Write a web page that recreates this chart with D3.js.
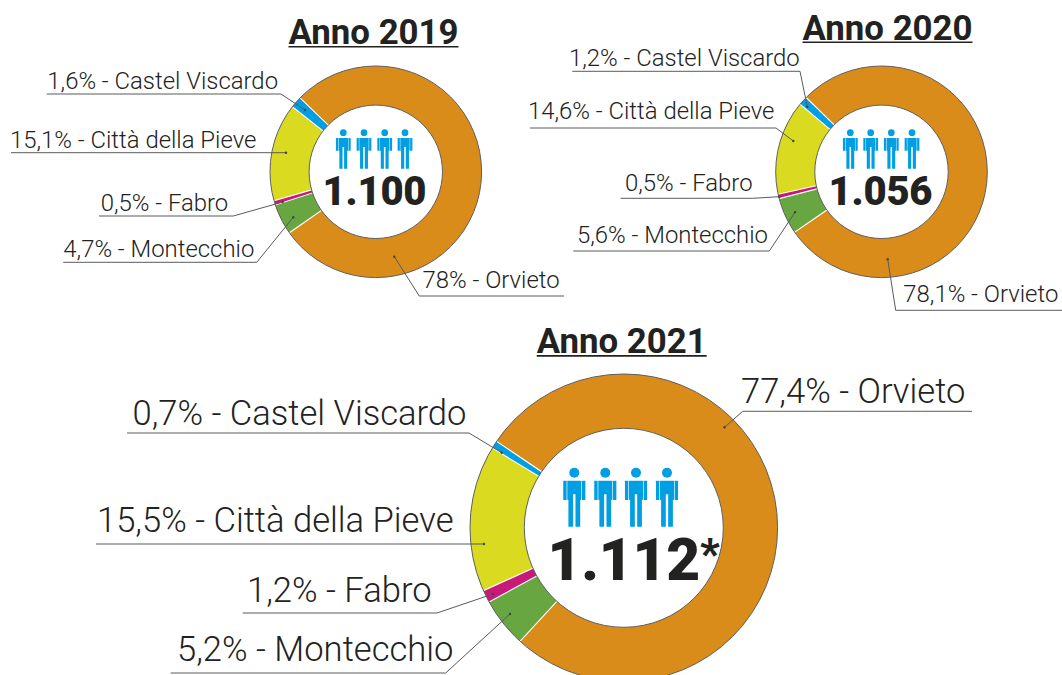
<!DOCTYPE html>
<html><head><meta charset="utf-8">
<script src="https://cdn.jsdelivr.net/npm/d3@7/dist/d3.min.js"></script>
<style>html,body{margin:0;padding:0;background:#fff;overflow:hidden}svg{display:block}text{font-family:Roboto,sans-serif}</style>
</head><body><div id="c"></div>
<script>
const categories = ["Orvieto","Montecchio","Fabro","Città della Pieve","Castel Viscardo"];
const colors = ["#D98C1A","#68A642","#C8197A","#DADA20","#009FE3"];
const years = ["Anno 2019","Anno 2020","Anno 2021"];
const totals = ["1.100","1.056","1.112"];
const totalMarks = ["","","*"];
const values2019 = [78,4.7,0.5,15.1,1.6];
const values2020 = [78.1,5.6,0.5,14.6,1.2];
const values2021 = [77.4,5.2,1.2,15.5,0.7];
const labels2019 = ["78%","4,7%","0,5%","15,1%","1,6%"];
const labels2020 = ["78,1%","5,6%","0,5%","14,6%","1,2%"];
const labels2021 = ["77,4%","5,2%","1,2%","15,5%","0,7%"];
const allValues = [values2019,values2020,values2021];
const allLabels = [labels2019,labels2020,labels2021];

// layout only
const panels = [
 {cx:375.8,cy:171.8,r:105.8,ri:66.7,start:-46,fs:23.9,title:{x:373.5,y:43.8,u:46.7,fs:34.8},
  num:{x:322.5,y:205,fs:40},icons:{xs:[343.3,364,384.7,405],top:129.3,h:39.4},
  leaders:[
   {tx:422.5,ty:288.3,tip:[394.3,256.7],elbow:[419.3,296],end:[564,296]},
   {tx:63.3,ty:256.7,tip:[293.3,217.3],elbow:[256.7,262.3],end:[63.3,262.3]},
   {tx:100.7,ty:210.7,tip:[282.7,202],elbow:[233.3,216],end:[99,216]},
   {tx:10,ty:147.7,tip:[286,152.7],elbow:null,end:[11,152.7]},
   {tx:47.3,ty:89.3,tip:[305,110],elbow:[281,94],end:[46.7,94]}]},
 {cx:881.5,cy:171.8,r:105.8,ri:66.7,start:-45.7,fs:23.9,title:{x:887.5,y:40,u:42.3,fs:34.8},
  num:{x:828.5,y:205,fs:40},icons:{xs:[850.3,870.7,891.3,912],top:129.3,h:39.4},
  leaders:[
   {tx:903.3,ty:302.3,tip:[887.7,259.3],elbow:[895.7,310.3],end:[1062,310.3]},
   {tx:577,ty:242.7,tip:[795,212.3],elbow:[769.3,251],end:[573.3,251]},
   {tx:625,ty:190.7,tip:[779.3,196.7],elbow:[752.3,198.3],end:[620.7,198.3]},
   {tx:528,ty:119.3,tip:[793.3,141],elbow:[776,128],end:[530,128]},
   {tx:569,ty:65.7,tip:[807.3,106.7],elbow:[800,71.3],end:[572.3,71.3]}]},
 {cx:623.8,cy:527.8,r:153.8,ri:99.5,start:-56,fs:34.6,title:{x:621.7,y:352.7,u:355.9,fs:34.8},
  num:{x:547.5,y:580,fs:58.6},icons:{xs:[574.3,605.3,636,667],top:467.7,h:59},
  leaders:[
   {tx:741,ty:402.7,tip:[724.5,427.3],elbow:[742.7,411.3],end:[972,411.3]},
   {tx:177,ty:661,tip:[510,614],elbow:[445.7,673],end:[170.7,673]},
   {tx:247,ty:601.7,tip:[493,594],elbow:[437,613],end:[242.7,613]},
   {tx:97,ty:531.7,tip:[484,544],elbow:null,end:[96,544]},
   {tx:132.5,ty:425,tip:[501.7,452.7],elbow:[469,433],end:[127,433]}]}
];

const svg = d3.select("#c").append("svg").attr("width",1062).attr("height",675);
const ink="#222221", rule="#5a5a5a";

function drawPerson(g,x,top,h){
  const s=h/40;
  const p=g.append("g").attr("transform",`translate(${x},${top}) scale(${s})`).attr("fill","#009FE3");
  p.append("circle").attr("cx",0).attr("cy",3.4).attr("r",3.4);
  p.append("path").attr("d","M-4.75,8.8 H4.75 V21.5 L4,22 V40 H0.8 V18 H-0.8 V40 H-4 V22 L-4.75,21.5 Z");
  p.append("rect").attr("x",-7.5).attr("y",8.8).attr("width",2.3).attr("height",13.1).attr("rx",0.4);
  p.append("rect").attr("x",5.2).attr("y",8.8).attr("width",2.3).attr("height",13.1).attr("rx",0.4);
}

panels.forEach((P,i)=>{
  const vals=allValues[i], labs=allLabels[i];
  const g=svg.append("g");
  const a0=P.start*Math.PI/180;
  const pie=d3.pie().sort(null).startAngle(a0).endAngle(a0+2*Math.PI);
  const arc=d3.arc().innerRadius(P.ri).outerRadius(P.r);
  const ring=g.append("g").attr("transform",`translate(${P.cx},${P.cy})`);
  const arcs=pie(vals).map((d,j)=>({d,j})).sort((a,b)=>b.d.value-a.d.value);
  ring.selectAll("path.s").data(arcs).join("path").attr("class","s")
    .attr("d",o=>arc(o.d)).attr("fill",o=>colors[o.j]).attr("stroke","#fff").attr("stroke-width",2.2)
    .attr("paint-order","stroke");
  [P.r,P.ri].forEach(r=>ring.append("circle").attr("r",r).attr("fill","none").attr("stroke","#5f5f5f").attr("stroke-width",1));

  const line=d3.line();
  P.leaders.forEach((L,j)=>{
    const pts=L.elbow?[L.tip,L.elbow,L.end]:[L.tip,L.end];
    g.append("path").attr("d",line(pts)).attr("fill","none").attr("stroke",rule).attr("stroke-width",1);
    g.append("circle").attr("cx",L.tip[0]).attr("cy",L.tip[1]).attr("r",1.2).attr("fill","#444");
    g.append("text").attr("x",L.tx).attr("y",L.ty).attr("font-size",P.fs).attr("font-weight",300)
      .attr("fill",ink).text(`${labs[j]} - ${categories[j]}`);
  });

  const t=g.append("text").attr("x",P.title.x).attr("y",P.title.y).attr("text-anchor","middle")
    .attr("font-size",P.title.fs).attr("font-weight",700).attr("fill",ink).text(years[i]);
  const w=t.node().getComputedTextLength();
  g.append("line").attr("x1",P.title.x-w/2).attr("x2",P.title.x+w/2).attr("y1",P.title.u).attr("y2",P.title.u)
    .attr("stroke",ink).attr("stroke-width",1.6);

  P.icons.xs.forEach(x=>drawPerson(g,x,P.icons.top,P.icons.h));
  const n=g.append("text").attr("x",P.num.x).attr("y",P.num.y)
    .attr("font-size",P.num.fs).attr("font-weight",900).attr("fill",ink).attr("letter-spacing",-0.2);
  n.append("tspan").text(totals[i]);
  if(totalMarks[i]) n.append("tspan").attr("font-size",P.num.fs*0.72).attr("dy",-12.5).attr("dx",0).text(totalMarks[i]);
});
</script></body></html>
